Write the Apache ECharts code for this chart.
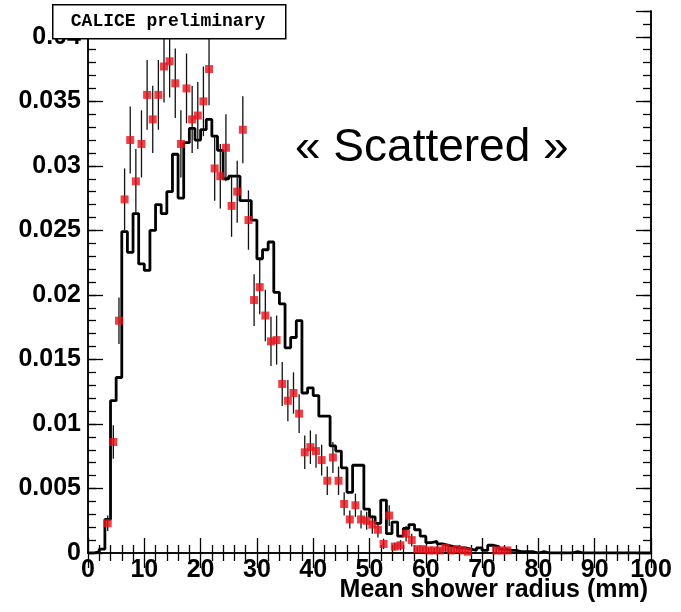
<!DOCTYPE html>
<html>
<head>
<meta charset="utf-8">
<script src="https://cdn.jsdelivr.net/npm/echarts@6/dist/echarts.min.js"></script>
<style>
  html, body { margin: 0; padding: 0; background: #fff; }
  #chart { width: 681px; height: 612px; }
</style>
</head>
<body>
<div id="chart"></div>
<script>
// simulation histogram, one value per 1 mm bin (index = left edge in mm)
const mcValues = [
  0, 0.0001, 0.0003, 0.0026, 0.0118, 0.0136, 0.0249, 0.0233, 0.0263, 0.0224,
  0.0219, 0.0250, 0.0270, 0.0263, 0.0280, 0.0309, 0.0275, 0.0318, 0.0329, 0.0320,
  0.0328, 0.0336, 0.0323, 0.0312, 0.0290, 0.0292, 0.0292, 0.0273, 0.0273, 0.0258,
  0.0228, 0.0235, 0.0241, 0.0202, 0.0193, 0.0159, 0.0167, 0.0180, 0.0124, 0.0128,
  0.0122, 0.0106, 0.0106, 0.0083, 0.0079, 0.0066, 0.0047, 0.0068, 0.0068, 0.0034,
  0.0028, 0.0023, 0.0041, 0.0015, 0.0024, 0.0013, 0.0019, 0.0022, 0.0018, 0.0013,
  0.0008, 0.0009, 0.0007, 0.0006, 0.0005, 0.0004, 0.0004, 0.0003, 0.0002, 0.0004,
  0.0002, 0.0006, 0.0005, 0.0003, 0.0002, 0.0002, 0.0001, 0.0001, 0.0001, 0,
  0.0001, 0, 0, 0, 0, 0, 0.0001, 0, 0, 0,
  0, 0, 0, 0, 0, 0, 0, 0, 0, 0
];

// data points (same bins), null = no point drawn
const dataValues = [
  null, null, null, 0.0023, 0.0086, 0.0180, 0.0274, 0.0320, 0.0288, 0.0317,
  0.0355, 0.0336, 0.0355, 0.0377, 0.0381, 0.0364, 0.0317, 0.0360, 0.0336, 0.0339,
  0.0350, 0.0375, 0.0298, 0.0292, 0.0314, 0.0269, 0.0280, 0.0328, 0.0258, 0.0196,
  0.0206, 0.0184, 0.0164, 0.0165, 0.0131, 0.0118, 0.0124, 0.0108, 0.0078, 0.0082,
  0.0079, 0.0072, 0.0056, 0.0074, 0.0056, 0.0038, 0.0026, 0.0037, 0.0026, 0.0025,
  0.0022, 0.0018, 0.0007, 0.0029, 0.0005, 0.0006, 0.0015, 0.0010, 0.0003, 0.0003,
  0.0002, 0.0002, 0.0002, 0.0004, 0.0002, 0.0003, 0.0002, 0.0001, null, null,
  null, null, 0.0002, 0.0002, 0.0002
];

const dataErrors = [
  null, null, null, 0.0006, 0.0013, 0.0018, 0.0024, 0.0026, 0.0025, 0.0026,
  0.0027, 0.0026, 0.0027, 0.0028, 0.0028, 0.0027, 0.0026, 0.0027, 0.0026, 0.0026,
  0.0027, 0.0028, 0.0025, 0.0025, 0.0026, 0.0024, 0.0024, 0.0026, 0.0023, 0.0020,
  0.0021, 0.0020, 0.0019, 0.0019, 0.0017, 0.0016, 0.0016, 0.0015, 0.0013, 0.0013,
  0.0013, 0.0012, 0.0011, 0.0012, 0.0011, 0.0009, 0.0007, 0.0009, 0.0007, 0.0007,
  0.0007, 0.0006, 0.0004, 0.0008, 0.0003, 0.0004, 0.0006, 0.0005, 0.0002, 0.0002,
  0.0002, 0.0002, 0.0002, 0.0003, 0.0002, 0.0002, 0.0002, 0.0001, null, null,
  null, null, 0.0002, 0.0002, 0.0002
];

const binWidth = 1;
const xRange = [0, 100];
const xMajor = 10;
const yRange = [0, 0.042];
const yMajor = 0.005;
const yMinor = 0.001;

// step line through bin edges
const histLine = mcValues.map((v, i) => [i * binWidth, v]);
histLine.push([mcValues.length * binWidth, mcValues[mcValues.length - 1]]);

const points = [];
dataValues.forEach((v, i) => {
  if (v === null) return;
  points.push([(i + 0.5) * binWidth, v, dataErrors[i]]);
});

const chart = echarts.init(document.getElementById('chart'), null, { renderer: 'canvas' });

const labelFont = { color: '#000', fontFamily: 'Liberation Sans', fontWeight: 'bold', fontSize: 25 };
const frame = { show: true, lineStyle: { color: '#000', width: 1.5 } };

function xAxisDef(pos, withLabels) {
  return {
    type: 'value', position: pos, min: xRange[0], max: xRange[1], interval: xMajor,
    axisLine: frame,
    axisTick: { show: true, inside: true, length: 15, lineStyle: { color: '#000', width: 1.3 } },
    minorTick: { show: true, splitNumber: 5, length: 8, lineStyle: { color: '#000', width: 1.3 } },
    axisLabel: withLabels ? Object.assign({ show: true, margin: 5 }, labelFont) : { show: false },
    splitLine: { show: false }
  };
}

function yAxisDef(pos, step, len, withLabels) {
  return {
    type: 'value', position: pos, min: yRange[0], max: yRange[1], interval: step,
    axisLine: frame,
    axisTick: { show: true, inside: true, length: len, lineStyle: { color: '#000', width: 1.3 } },
    axisLabel: withLabels ? Object.assign({ show: true, margin: 7, showMaxLabel: false }, labelFont) : { show: false },
    splitLine: { show: false }
  };
}

const option = {
  backgroundColor: '#fff',
  animation: false,
  grid: { left: 88, top: 11, right: 30, bottom: 59, containLabel: false },
  xAxis: [
    xAxisDef('bottom', true),
    xAxisDef('top', false)
  ],
  yAxis: [
    yAxisDef('left', yMajor, 15, true),
    yAxisDef('left', yMinor, 8, false),
    yAxisDef('right', yMajor, 15, false),
    yAxisDef('right', yMinor, 8, false)
  ],
  series: [
    {
      name: 'simulation',
      type: 'line',
      step: 'end',
      symbol: 'none',
      lineStyle: { color: '#000', width: 2.8 },
      data: histLine,
      z: 2
    },
    {
      name: 'errors',
      type: 'custom',
      clip: true,
      renderItem: function (params, api) {
        const x = api.value(0), y = api.value(1), e = api.value(2);
        const top = api.coord([x, y + e]);
        const bot = api.coord([x, y - e]);
        return {
          type: 'line',
          shape: { x1: top[0], y1: top[1], x2: bot[0], y2: bot[1] },
          style: { stroke: '#111', lineWidth: 1.3 }
        };
      },
      data: points,
      z: 3
    },
    {
      name: 'data',
      type: 'scatter',
      symbol: 'rect',
      symbolSize: 8,
      itemStyle: { color: '#e8121a' },
      data: points.map(p => [p[0], p[1]]),
      z: 4
    }
  ],
  graphic: [
    {
      type: 'rect', left: 52, top: 4, z: 100,
      shape: { width: 233, height: 34 },
      style: { fill: '#fff', stroke: '#000', lineWidth: 1.5 }
    },
    {
      type: 'text', x: 168, y: 21, z: 101,
      style: {
        text: 'CALICE preliminary', fill: '#000',
        font: 'bold 18px "Liberation Mono"',
        align: 'center', verticalAlign: 'middle'
      }
    },
    {
      type: 'text', x: 295, y: 148, z: 101,
      style: {
        text: '« Scattered »', fill: '#000',
        font: '46px "Liberation Sans"',
        align: 'left', verticalAlign: 'middle'
      }
    },
    {
      type: 'text', x: 648, y: 590, z: 101,
      style: {
        text: 'Mean shower radius (mm)', fill: '#000',
        font: 'bold 25px "Liberation Sans"',
        align: 'right', verticalAlign: 'middle'
      }
    }
  ]
};

chart.setOption(option);
</script>
</body>
</html>
